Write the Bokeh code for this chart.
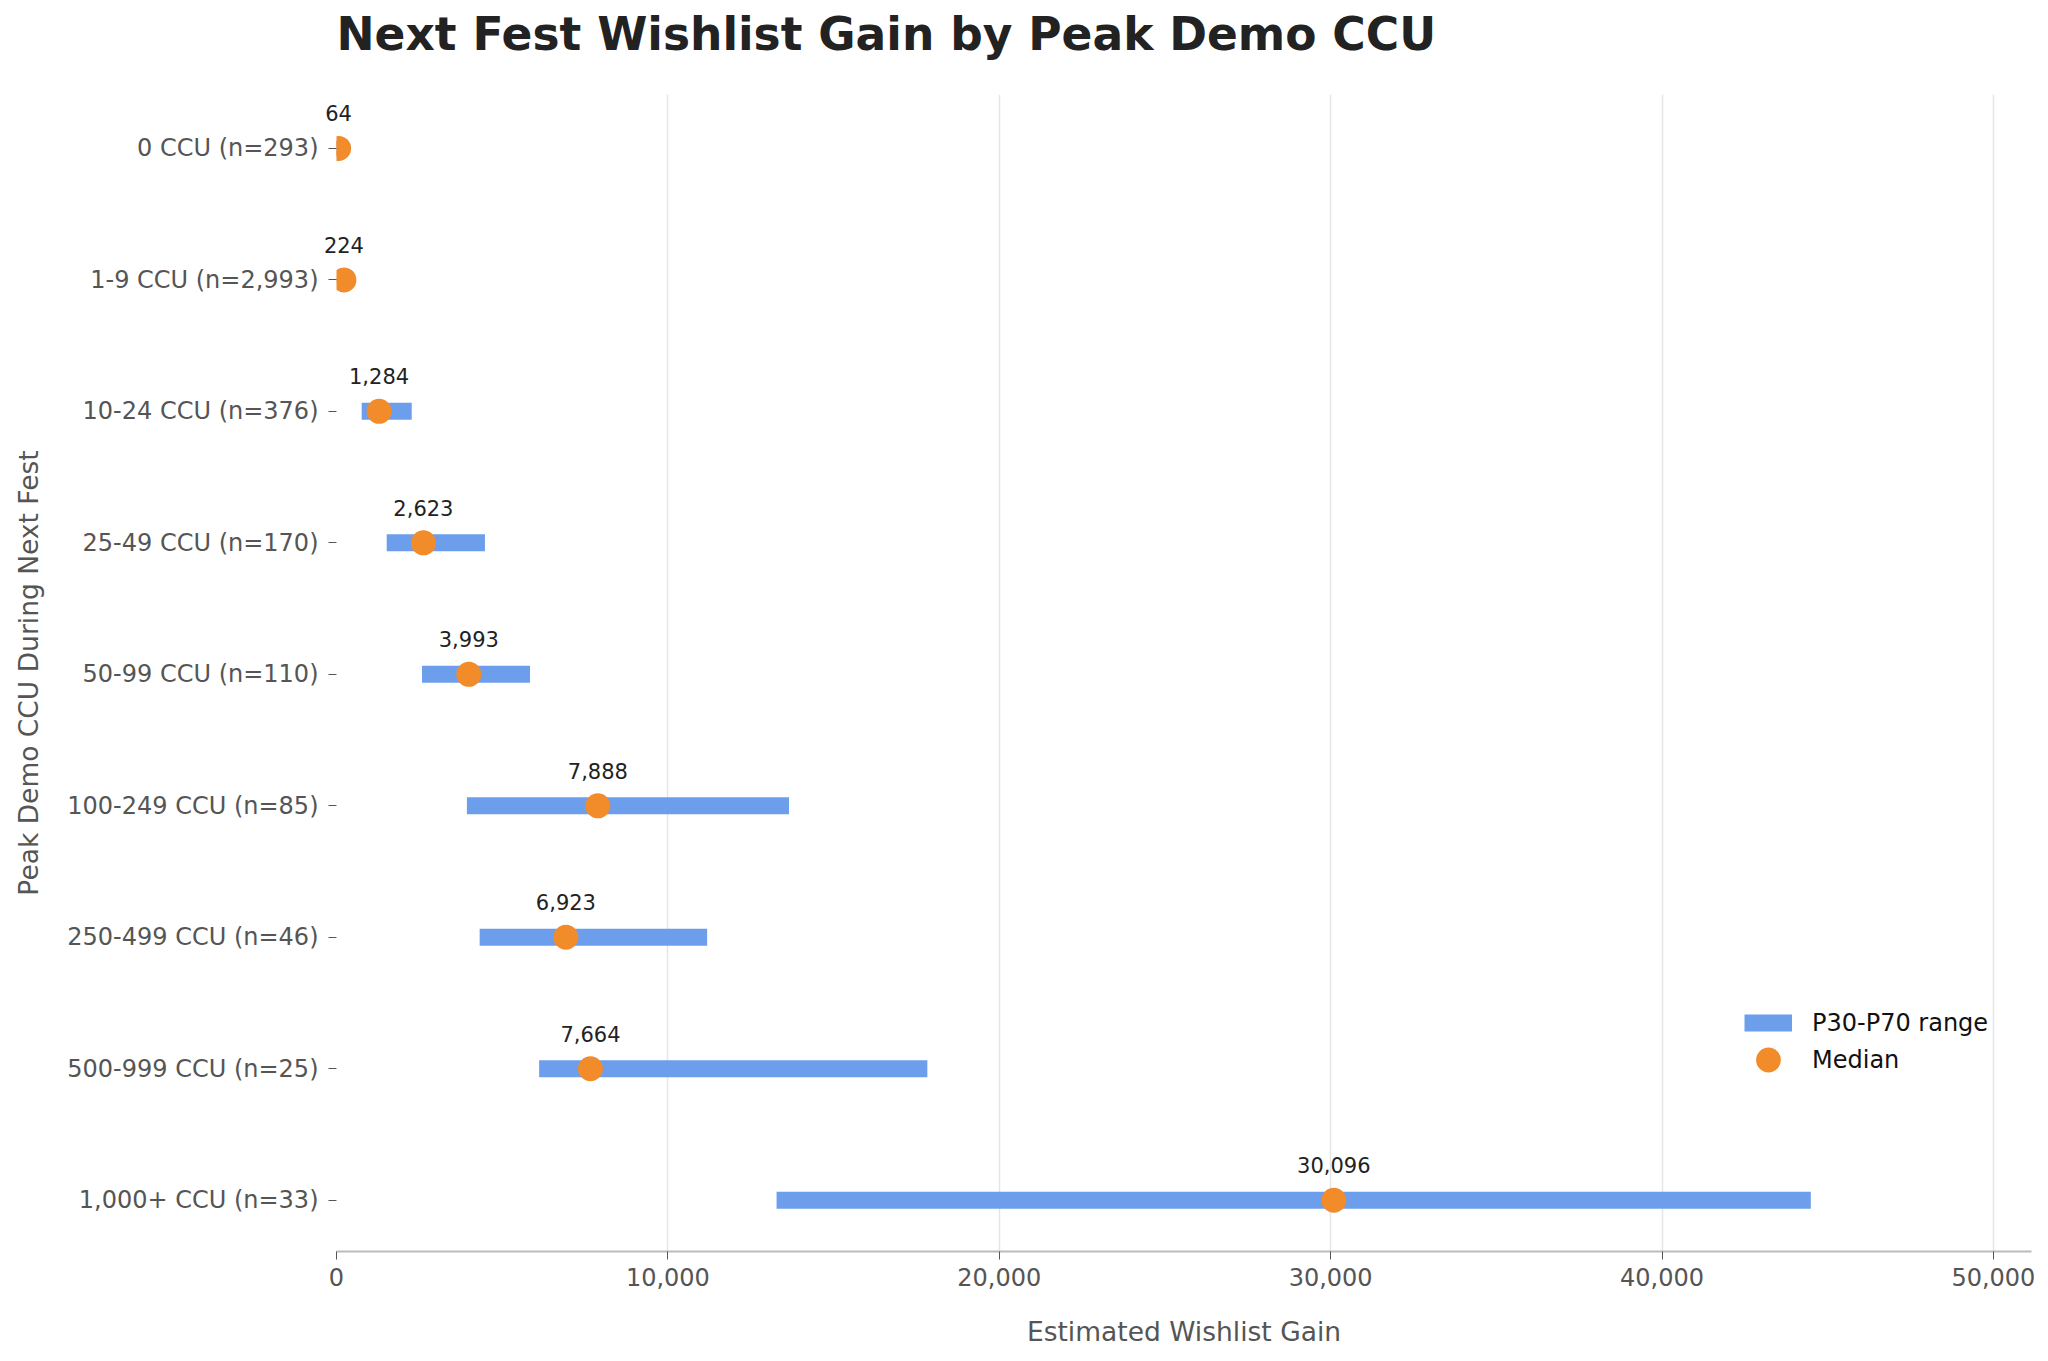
from bokeh.plotting import figure
from bokeh.models import (ColumnDataSource, Range1d, FixedTicker, NumeralTickFormatter,
                          Legend, LegendItem, Title)
from bokeh.core.properties import value
from bokeh.embed import file_html
from bokeh.resources import INLINE

categories = ["0 CCU (n=293)", "1-9 CCU (n=2,993)", "10-24 CCU (n=376)",
              "25-49 CCU (n=170)", "50-99 CCU (n=110)", "100-249 CCU (n=85)",
              "250-499 CCU (n=46)", "500-999 CCU (n=25)", "1,000+ CCU (n=33)"]
medians = [64, 224, 1284, 2623, 3993, 7888, 6923, 7664, 30096]
p30 = [0, 60, 760, 1515, 2580, 3935, 4320, 6115, 13280]
p70 = [150, 420, 2270, 4480, 5840, 13655, 11185, 17830, 44490]
x_ticks = [0, 10000, 20000, 30000, 40000, 50000]

BLUE = "#6D9EEB"
ORANGE = "#F28B2A"
FONT = "DejaVu Sans"

idx = list(range(len(categories)))
src = ColumnDataSource(dict(y=idx, p30=p30, p70=p70, med=medians,
                            lbl=[f"{m:,}" for m in medians]))

p = figure(width=2040, height=1355, output_backend="svg", toolbar_location=None,
           x_range=Range1d(0, 51150), y_range=Range1d(len(categories) - 1 + 0.39, -0.41),
           min_border_left=336, min_border_right=9, min_border_top=94, min_border_bottom=104,
           background_fill_color="white", border_fill_color="white")
p.outline_line_color = None

p.title.text = "Next Fest Wishlist Gain by Peak Demo CCU"
p.title.text_font = FONT
p.title.text_font_size = "45.5px"
p.title.text_font_style = "bold"
p.title.text_color = "#222222"
p.title.align = "left"
p.title.standoff = 10

# spacer between title and frame
spacer = Title(text=" ", text_font_size="1px", standoff=26, text_color="white")
p.add_layout(spacer, "above")

rng = p.segment(x0="p30", y0="y", x1="p70", y1="y", source=src,
                line_color=BLUE, line_width=17)
dots = p.scatter(x="med", y="y", source=src, size=15, fill_color=ORANGE,
                 line_color=ORANGE, line_width=10, marker="circle")

p.text(x="med", y="y", text="lbl", source=src, text_font=value(FONT),
       text_font_size="21px", text_color="#222222", text_align="center",
       text_baseline="middle", y_offset=-35, level="overlay")

legend = Legend(items=[LegendItem(label="P30-P70 range", renderers=[rng]),
                       LegendItem(label="Median", renderers=[dots])],
                location=(1408, 173), glyph_width=48, glyph_height=37, spacing=0,
                padding=0, margin=0, label_standoff=20,
                label_text_font=FONT, label_text_font_size="24px",
                label_text_color="#111111", border_line_color=None,
                background_fill_alpha=0)
p.add_layout(legend, "center")

# x axis
p.xaxis.ticker = FixedTicker(ticks=x_ticks)
p.xaxis.formatter = NumeralTickFormatter(format="0,0")
p.xaxis.axis_label = "Estimated Wishlist Gain"
p.xaxis.axis_label_text_font = FONT
p.xaxis.axis_label_text_font_size = "26.5px"
p.xaxis.axis_label_text_font_style = "normal"
p.xaxis.axis_label_text_color = "#555555"
p.xaxis.axis_label_standoff = 27
p.xaxis.major_label_text_font = FONT
p.xaxis.major_label_text_font_size = "24px"
p.xaxis.major_label_text_color = "#555555"
p.xaxis.major_label_standoff = 8
p.xaxis.axis_line_color = "#BBBBBB"
p.xaxis.axis_line_width = 2
p.xaxis.major_tick_line_color = "#555555"
p.xaxis.major_tick_out = 8
p.xaxis.major_tick_in = 0
p.xaxis.minor_tick_line_color = None

# y axis
p.yaxis.ticker = FixedTicker(ticks=idx)
p.yaxis.major_label_overrides = {i: c for i, c in zip(idx, categories)}
p.yaxis.axis_label = "Peak Demo CCU During Next Fest"
p.yaxis.axis_label_text_font = FONT
p.yaxis.axis_label_text_font_size = "26.5px"
p.yaxis.axis_label_text_font_style = "normal"
p.yaxis.axis_label_text_color = "#555555"
p.yaxis.axis_label_standoff = 20
p.yaxis.major_label_text_font = FONT
p.yaxis.major_label_text_font_size = "24px"
p.yaxis.major_label_text_color = "#555555"
p.yaxis.major_label_standoff = 10
p.yaxis.axis_line_color = None
p.yaxis.major_tick_line_color = "#555555"
p.yaxis.major_tick_out = 8
p.yaxis.major_tick_in = 0
p.yaxis.minor_tick_line_color = None

p.xgrid.grid_line_color = "#E5E5E5"
p.xgrid.grid_line_width = 1.5
p.ygrid.grid_line_color = None

open("out.html", "w").write(file_html(p, INLINE))
